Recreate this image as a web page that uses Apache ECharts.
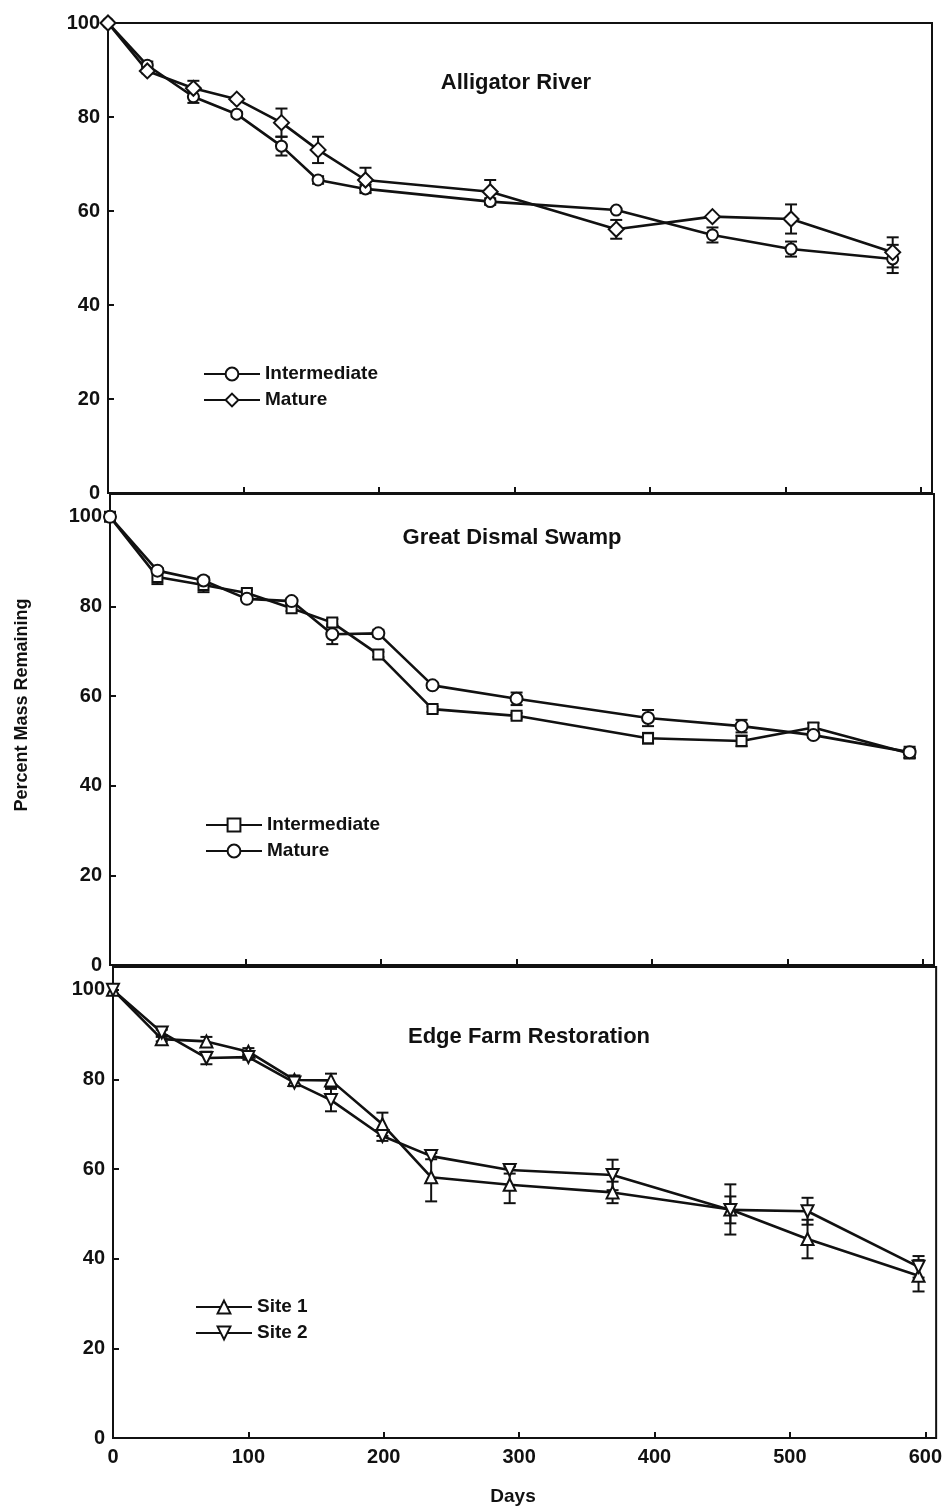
<!DOCTYPE html>
<html><head><meta charset="utf-8">
<script src="https://cdn.jsdelivr.net/npm/echarts@6/dist/echarts.min.js"></script>
<style>html,body{margin:0;padding:0;background:#fff}#c{width:945px;height:1511px}</style>
</head><body><div id="c"></div>
<script>
// ---------- data ----------
const xTickLabels = ['0','100','200','300','400','500','600'];
const yTickLabels = ['0','20','40','60','80','100'];

// Alligator River
const arDays = [0, 29, 63, 95, 128, 155, 190, 282, 375, 446, 504, 579];
const arIntermediate = [100, 91.0, 84.3, 80.6, 73.8, 66.6, 64.7, 62.0, 60.2, 54.9, 51.9, 49.8];
const arIntermediateErr = [0, 0.8, 1.3, 0.5, 2.0, 0.8, 0.9, 0.7, 0, 1.6, 1.6, 3.0];
const arMature = [100, 89.8, 86.1, 83.8, 78.8, 73.0, 66.6, 64.1, 56.1, 58.8, 58.3, 51.2];
const arMatureErr = [0, 0.5, 1.6, 0.5, 3.0, 2.8, 2.6, 2.5, 2.0, 0, 3.1, 3.2];

// Great Dismal Swamp
const gdsDays = [0, 35, 69, 101, 134, 164, 198, 238, 300, 397, 466, 519, 590];
const gdsIntermediate = [100, 86.6, 84.8, 83.0, 79.6, 76.4, 69.3, 57.1, 55.6, 50.6, 50.0, 53.0, 47.2];
const gdsIntermediateErr = [0, 1.6, 1.6, 0.8, 0.6, 0.8, 0.6, 0.6, 0.6, 1.2, 1.2, 1.0, 1.0];
const gdsMature = [100, 88.0, 85.8, 81.7, 81.2, 73.8, 74.0, 62.4, 59.4, 55.1, 53.3, 51.3, 47.5];
const gdsMatureErr = [0, 0.6, 0.8, 0.6, 0.6, 2.2, 0.8, 0.6, 1.4, 1.8, 1.4, 0.6, 1.2];

// Edge Farm Restoration
const efDays = [0, 36, 69, 100, 134, 161, 199, 235, 293, 369, 456, 513, 595];
const efSite1 = [100, 89.0, 88.5, 86.2, 79.9, 79.8, 70.0, 58.2, 56.5, 54.8, 51.0, 44.4, 36.2];
const efSite1Err = [0, 0.5, 1.0, 0.8, 1.0, 1.5, 2.6, 5.4, 4.1, 2.4, 5.6, 4.3, 3.5];
const efSite2 = [100, 90.5, 84.8, 85.0, 79.3, 75.4, 67.4, 62.9, 59.8, 58.7, 50.9, 50.6, 38.2];
const efSite2Err = [0, 0.6, 1.4, 0.6, 0.8, 2.5, 1.1, 0.7, 0.8, 3.4, 3.0, 3.0, 2.4];

const panelTitles = ['Alligator River', 'Great Dismal Swamp', 'Edge Farm Restoration'];
const xAxisName = 'Days';
const yAxisName = 'Percent Mass Remaining';

// ---------- chart ----------
const FONT = "'Liberation Sans', Arial, Helvetica, sans-serif";
const INK = '#111';
const chart = echarts.init(document.getElementById('c'), null, {renderer: 'canvas'});

const grids = [
  {left: 108, top: 23, width: 824, height: 470},
  {left: 110, top: 494, width: 824, height: 471},
  {left: 113, top: 967, width: 824, height: 471}
].map(g => Object.assign(g, {show: true, borderColor: INK, borderWidth: 2, backgroundColor: 'transparent'}));

const yMax = [100, 105.1, 105.1];

const labelStyle = {color: INK, fontSize: 20, fontWeight: 'bold', fontFamily: FONT};

const xAxes = [0, 1, 2].map(i => ({
  type: 'value', gridIndex: i, min: 0, max: 608, interval: 100,
  axisLine: {show: false},
  axisTick: {show: true, inside: true, length: 6, lineStyle: {color: INK, width: 2}},
  splitLine: {show: false},
  axisLabel: Object.assign({
    show: i === 2, margin: 9, showMaxLabel: false,
    formatter: v => xTickLabels.includes(String(v)) ? String(v) : ''
  }, labelStyle)
}));

const yAxes = [0, 1, 2].map(i => ({
  type: 'value', gridIndex: i, min: 0, max: yMax[i], interval: 20,
  axisLine: {show: false},
  axisTick: {show: true, inside: true, length: 6, lineStyle: {color: INK, width: 2}},
  splitLine: {show: false},
  axisLabel: Object.assign({
    show: true, margin: 8, showMaxLabel: i === 0,
    formatter: v => yTickLabels.includes(String(v)) ? String(v) : ''
  }, labelStyle)
}));

function lineSeries(name, days, vals, symbol, size, rotate, idx) {
  return {
    type: 'line', name, xAxisIndex: idx, yAxisIndex: idx,
    data: days.map((d, i) => [d, vals[i]]),
    symbol, symbolSize: size, symbolRotate: rotate || 0, showAllSymbol: true,
    lineStyle: {color: INK, width: 2.6},
    itemStyle: {color: '#fff', borderColor: INK, borderWidth: 2},
    z: 3, animation: false, emphasis: {disabled: true}, silent: true
  };
}

function errSeries(days, vals, errs, idx) {
  const data = [];
  days.forEach((d, i) => { if (errs[i] > 0) data.push([d, vals[i] - errs[i], vals[i] + errs[i]]); });
  return {
    type: 'custom', xAxisIndex: idx, yAxisIndex: idx, data, z: 2, silent: true, animation: false,
    encode: {x: 0, y: [1, 2]},
    renderItem(params, api) {
      const x = api.value(0);
      const lo = api.coord([x, api.value(1)]);
      const hi = api.coord([x, api.value(2)]);
      const w = 6;
      const st = {stroke: INK, lineWidth: 2};
      return {type: 'group', children: [
        {type: 'line', shape: {x1: lo[0], y1: lo[1], x2: hi[0], y2: hi[1]}, style: st},
        {type: 'line', shape: {x1: lo[0] - w, y1: lo[1], x2: lo[0] + w, y2: lo[1]}, style: st},
        {type: 'line', shape: {x1: hi[0] - w, y1: hi[1], x2: hi[0] + w, y2: hi[1]}, style: st}
      ]};
    }
  };
}

const series = [
  errSeries(arDays, arIntermediate, arIntermediateErr, 0),
  errSeries(arDays, arMature, arMatureErr, 0),
  lineSeries('AR|Intermediate', arDays, arIntermediate, 'circle', 11, 0, 0),
  lineSeries('AR|Mature', arDays, arMature, 'diamond', 15, 0, 0),

  errSeries(gdsDays, gdsIntermediate, gdsIntermediateErr, 1),
  errSeries(gdsDays, gdsMature, gdsMatureErr, 1),
  lineSeries('GDS|Intermediate', gdsDays, gdsIntermediate, 'rect', 10, 0, 1),
  lineSeries('GDS|Mature', gdsDays, gdsMature, 'circle', 12, 0, 1),

  errSeries(efDays, efSite1, efSite1Err, 2),
  errSeries(efDays, efSite2, efSite2Err, 2),
  lineSeries('EF|Site 1', efDays, efSite1, 'triangle', 12, 0, 2),
  lineSeries('EF|Site 2', efDays, efSite2, 'triangle', 12, 180, 2)
];

function legend(names, left, top) {
  return {
    data: names, left, top, orient: 'vertical', itemWidth: 56, itemHeight: 16, itemGap: 6,
    padding: 0, selectedMode: false, formatter: n => n.split('|')[1],
    textStyle: {color: INK, fontSize: 19, fontWeight: 'bold', fontFamily: FONT, lineHeight: 20}
  };
}

const titlePos = [[516, 83], [512, 538], [529, 1037]];
const graphic = panelTitles.map((t, i) => ({
  type: 'text', x: titlePos[i][0], y: titlePos[i][1], silent: true,
  style: {text: t, fill: INK, font: `bold 22px ${FONT}`, align: 'center', verticalAlign: 'middle',
          textAlign: 'center', textVerticalAlign: 'middle'}
}));
graphic.push({
  type: 'text', x: 513, y: 1497, silent: true,
  style: {text: xAxisName, fill: INK, font: `bold 19px ${FONT}`, align: 'center', verticalAlign: 'middle',
          textAlign: 'center', textVerticalAlign: 'middle'}
});
graphic.push({
  type: 'text', x: 22, y: 705, rotation: Math.PI / 2, silent: true,
  style: {text: yAxisName, fill: INK, font: `bold 18px ${FONT}`, align: 'center', verticalAlign: 'middle',
          textAlign: 'center', textVerticalAlign: 'middle'}
});

chart.setOption({
  backgroundColor: '#fff',
  animation: false,
  grid: grids,
  xAxis: xAxes,
  yAxis: yAxes,
  legend: [
    legend(['AR|Intermediate', 'AR|Mature'], 203, 364),
    legend(['GDS|Intermediate', 'GDS|Mature'], 205, 815),
    legend(['EF|Site 1', 'EF|Site 2'], 195, 1297)
  ],
  graphic,
  series
});
</script></body></html>
